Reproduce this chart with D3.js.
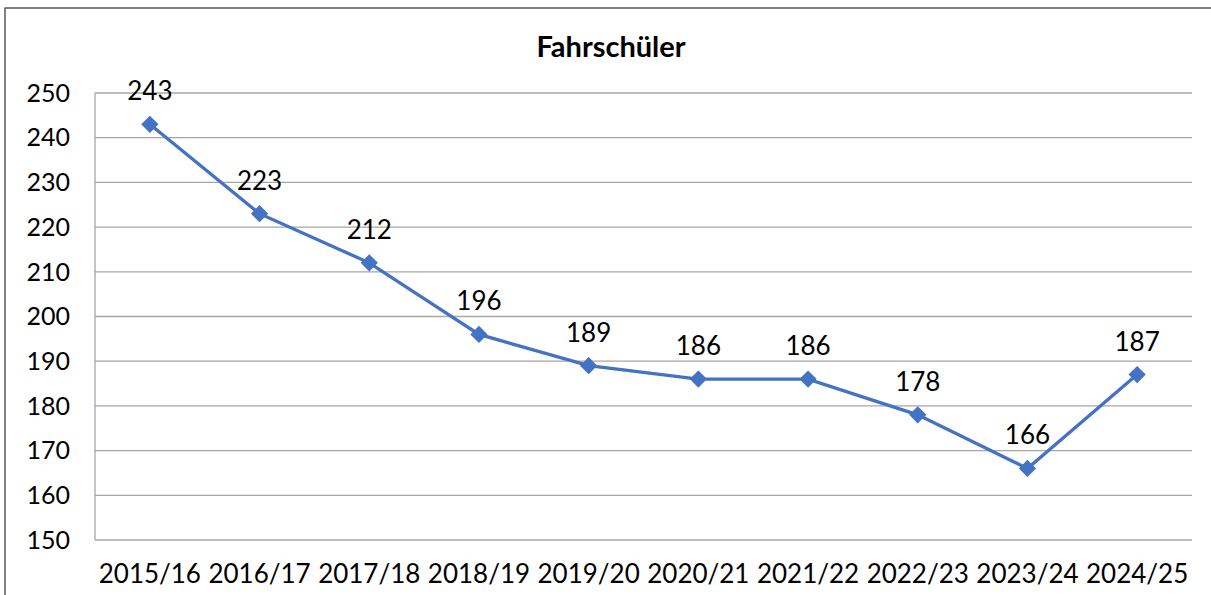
<!DOCTYPE html>
<meta charset="utf-8">
<style>
body { margin: 0; background: #fff; }
text { font-family: Lato, "Noto Sans", sans-serif; fill: #000; }
</style>
<svg width="1211" height="595"></svg>
<script src="https://cdn.jsdelivr.net/npm/d3@7"></script>
<script>

var chartTitle = "Fahrschüler";
var years = ["2015/16", "2016/17", "2017/18", "2018/19", "2019/20", "2020/21", "2021/22", "2022/23", "2023/24", "2024/25"];
var students = [243, 223, 212, 196, 189, 186, 186, 178, 166, 187];
var yTicks = [150, 160, 170, 180, 190, 200, 210, 220, 230, 240, 250];

var svg = d3.select("svg");

// outer frame (right/bottom run off the picture)
svg.append("rect")
    .attr("x", 5).attr("y", 8)
    .attr("width", 1230).attr("height", 620)
    .attr("fill", "none")
    .attr("stroke", "#404040")
    .attr("stroke-width", 1.3);

var margin = {left: 95, right: 1192, top: 93, bottom: 540};

var x = d3.scaleBand()
    .domain(years)
    .range([margin.left, margin.right]);

var y = d3.scaleLinear()
    .domain([150, 250])
    .range([margin.bottom, margin.top]);

// gridlines
svg.append("g")
    .selectAll("line")
    .data(yTicks)
  .enter().append("line")
    .attr("x1", margin.left)
    .attr("x2", margin.right)
    .attr("y1", function(d) { return y(d); })
    .attr("y2", function(d) { return y(d); })
    .attr("stroke", "#a6a6a6")
    .attr("stroke-width", 1.3);

// left axis line
svg.append("line")
    .attr("x1", margin.left).attr("x2", margin.left)
    .attr("y1", margin.top).attr("y2", margin.bottom)
    .attr("stroke", "#a6a6a6")
    .attr("stroke-width", 1.3);

// y tick labels
svg.append("g")
    .selectAll("text")
    .data(yTicks)
  .enter().append("text")
    .attr("x", 70)
    .attr("y", function(d) { return y(d); })
    .attr("dy", "0.35em")
    .attr("text-anchor", "end")
    .style("font-size", "25px")
    .text(function(d) { return d; });

// x tick labels
svg.append("g")
    .selectAll("text")
    .data(years)
  .enter().append("text")
    .attr("x", function(d) { return x(d) + x.bandwidth() / 2; })
    .attr("y", 583)
    .attr("text-anchor", "middle")
    .style("font-size", "26px")
    .text(function(d) { return d; });

// title
svg.append("text")
    .attr("x", 611)
    .attr("y", 57)
    .attr("text-anchor", "middle")
    .style("font-size", "29px")
    .style("font-weight", "bold")
    .text(chartTitle);

var cx = function(d, i) { return x(years[i]) + x.bandwidth() / 2; };

var line = d3.line()
    .x(cx)
    .y(function(d) { return y(d); });

svg.append("path")
    .datum(students)
    .attr("d", line)
    .attr("fill", "none")
    .attr("stroke", "#4472c4")
    .attr("stroke-width", 3.3);

svg.append("g")
    .selectAll("path")
    .data(students)
  .enter().append("path")
    .attr("d", d3.symbol().type(d3.symbolDiamond2).size(190))
    .attr("transform", function(d, i) { return "translate(" + cx(d, i) + "," + y(d) + ")"; })
    .attr("fill", "#4472c4");

// data labels
svg.append("g")
    .selectAll("text")
    .data(students)
  .enter().append("text")
    .attr("x", cx)
    .attr("y", function(d) { return y(d) - 24; })
    .attr("text-anchor", "middle")
    .style("font-size", "26px")
    .text(function(d) { return d; });

</script>
